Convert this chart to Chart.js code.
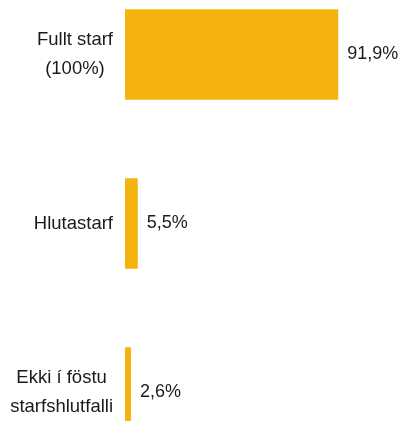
<!DOCTYPE html>
<html>
<head>
<meta charset="utf-8">
<script src="https://cdn.jsdelivr.net/npm/chart.js@4"></script>
<style>
  html, body { margin: 0; padding: 0; background: #fff; overflow: hidden; }
  #wrap { position: absolute; left: 0; top: -30px; width: 400px; height: 507px; }
</style>
</head>
<body>
<div id="wrap"><canvas id="myChart"></canvas></div>
<script>
// starfshlutfall chart

var categories = [['Fullt starf', '(100%)'], ['Hlutastarf'], ['Ekki í föstu', 'starfshlutfalli']];
var values = [91.9, 5.5, 2.6];
var valueLabels = ['91,9%', '5,5%', '2,6%'];

var barColor = '#F5B30E';
var textColor = '#1a1a1a';

// draws the category names (lines centred inside a right aligned block) and the value labels
var labelPlugin = {
  id: 'labelPlugin',
  afterDatasetsDraw: function(chart) {
    var ctx = chart.ctx;
    var meta = chart.getDatasetMeta(0);
    ctx.save();
    ctx.fillStyle = textColor;
    ctx.textBaseline = 'middle';

    meta.data.forEach(function(bar, i) {
      // value label
      ctx.font = '18px "Liberation Sans", Arial, sans-serif';
      ctx.textAlign = 'left';
      ctx.fillText(valueLabels[i], bar.x + 9, bar.y);

      // category label
      ctx.font = '18.5px "Liberation Sans", Arial, sans-serif';
      ctx.textAlign = 'center';
      var lines = categories[i];
      var w = 0;
      lines.forEach(function(l) { w = Math.max(w, ctx.measureText(l).width); });
      var cx = 113 - w / 2;
      var lh = 29;
      var y0 = bar.y - (lines.length - 1) * lh / 2;
      lines.forEach(function(l, j) {
        ctx.fillText(l, cx, y0 + j * lh);
      });
    });
    ctx.restore();
  }
};

var ctx = document.getElementById('myChart');

var myChart = new Chart(ctx, {
  type: 'bar',
  data: {
    labels: categories,
    datasets: [{
      data: values,
      backgroundColor: barColor,
      borderWidth: 0,
      categoryPercentage: 1,
      barPercentage: 0.535
    }]
  },
  options: {
    indexAxis: 'y',
    responsive: true,
    maintainAspectRatio: false,
    animation: false,
    layout: { padding: { left: 125, right: 43, top: 0, bottom: 0 } },
    plugins: {
      legend: { display: false },
      tooltip: { enabled: false }
    },
    scales: {
      x: { display: false, min: 0, max: 100 },
      y: { display: false }
    }
  },
  plugins: [labelPlugin]
});
</script>
</body>
</html>
